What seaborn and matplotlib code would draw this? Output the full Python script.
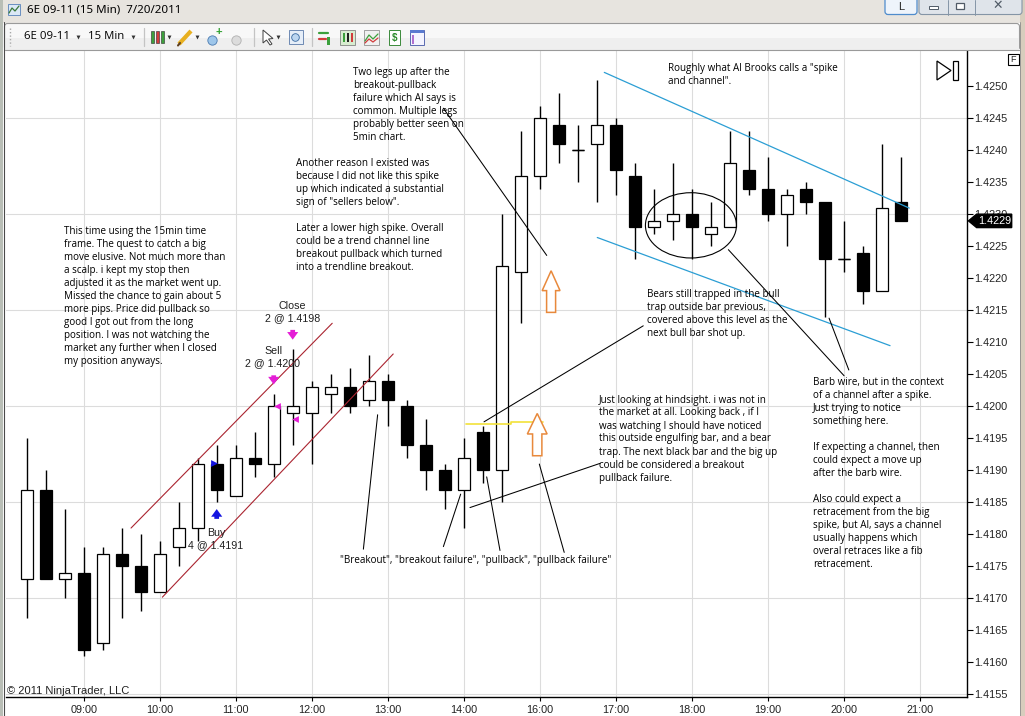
import numpy as np
import pandas as pd
import matplotlib.pyplot as plt
import seaborn as sns
from matplotlib.patches import Rectangle, Polygon, Ellipse, FancyBboxPatch

# ── 15 min bars, 6E 09-11, 7/20/2011 ─────────────────────
opens  = [1.4173, 1.4187, 1.4173, 1.4174, 1.4163, 1.4177, 1.4175, 1.4171, 1.4178, 1.4181,
          1.4191, 1.4186, 1.4192, 1.4191, 1.4199, 1.4199, 1.4202, 1.4203, 1.4201, 1.4204,
          1.4200, 1.4194, 1.4190, 1.4187, 1.4196, 1.4190, 1.4221, 1.4236, 1.4244, 1.4240,
          1.4241, 1.4244, 1.4236, 1.4228, 1.4229, 1.4230, 1.4227, 1.4228, 1.4237, 1.4234,
          1.4230, 1.4234, 1.4232, 1.4223, 1.4224, 1.4218, 1.4232]
highs  = [1.4195, 1.4190, 1.4184, 1.4178, 1.4178, 1.4181, 1.4180, 1.4179, 1.4185, 1.4192,
          1.4194, 1.4194, 1.4196, 1.4202, 1.4209, 1.4204, 1.4205, 1.4206, 1.4208, 1.4205,
          1.4201, 1.4198, 1.4191, 1.4195, 1.4197, 1.4230, 1.4243, 1.4247, 1.4249, 1.4244,
          1.4251, 1.4245, 1.4238, 1.4234, 1.4238, 1.4234, 1.4232, 1.4243, 1.4243, 1.4239,
          1.4234, 1.4235, 1.4232, 1.4229, 1.4225, 1.4241, 1.4239]
lows   = [1.4167, 1.4173, 1.4170, 1.4161, 1.4162, 1.4167, 1.4168, 1.4171, 1.4175, 1.4179,
          1.4185, 1.4186, 1.4189, 1.4189, 1.4194, 1.4191, 1.4199, 1.4199, 1.4200, 1.4197,
          1.4192, 1.4187, 1.4184, 1.4181, 1.4188, 1.4185, 1.4213, 1.4234, 1.4238, 1.4235,
          1.4232, 1.4233, 1.4223, 1.4227, 1.4226, 1.4223, 1.4225, 1.4228, 1.4233, 1.4229,
          1.4225, 1.4230, 1.4214, 1.4221, 1.4216, 1.4218, 1.4229]
closes = [1.4187, 1.4173, 1.4174, 1.4162, 1.4177, 1.4175, 1.4171, 1.4177, 1.4181, 1.4191,
          1.4187, 1.4192, 1.4191, 1.4200, 1.4200, 1.4203, 1.4203, 1.4200, 1.4204, 1.4201,
          1.4194, 1.4190, 1.4187, 1.4192, 1.4190, 1.4222, 1.4236, 1.4245, 1.4241, 1.4240,
          1.4244, 1.4237, 1.4228, 1.4229, 1.4230, 1.4228, 1.4228, 1.4238, 1.4234, 1.4230,
          1.4233, 1.4232, 1.4223, 1.4223, 1.4218, 1.4231, 1.4229]

# two sessions, pause between 14:00 and 15:15
times = (list(pd.date_range('2011-07-20 08:15', '2011-07-20 14:00', freq='15min')) +
         list(pd.date_range('2011-07-20 15:15', '2011-07-20 20:45', freq='15min')))
hour_ticks  = [i for i, t in enumerate(times) if t.minute == 0] + [len(times)]
hour_labels = [times[i].strftime('%H:%M') for i in hour_ticks[:-1]] + ['21:00']

price_ticks = np.round(np.arange(1.4155, 1.42501, 0.0005), 4)
grid_levels = np.round(np.arange(1.4155, 1.42501, 0.0015), 4)

# hand drawn objects (bar index, price)
red_upper  = ([5.49, 16.08], [1.41810, 1.42130])
red_lower  = ([7.14, 19.29], [1.41702, 1.42082])
blue_upper = ([30.40, 46.45], [1.42522, 1.42310])
blue_lower = ([30.03, 45.44], [1.42264, 1.42095])
yellow_x = [23.12, 25.49, 25.49, 27.20]
yellow_y = [1.41972, 1.41972, 1.41975, 1.41975]
note_lines = [
    ([21.93, 27.37], [1.42466, 1.42236]),   # two legs up
    ([24.07, 32.45], [1.41976, 1.42126]),   # bears still trapped
    ([23.33, 30.17], [1.41842, 1.41911]),   # just looking at hindsight
    ([17.72, 18.47], [1.41777, 1.41987]),   # "Breakout"
    ([21.93, 22.84], [1.41781, 1.41863]),   # "breakout failure"
    ([24.91, 24.21], [1.41775, 1.41890]),   # "pullback"
    ([28.29, 26.98], [1.41772, 1.41910]),   # "pullback failure"
    ([36.93, 43.02], [1.42245, 1.42048]),   # barb wire
    ([42.23, 43.27], [1.42138, 1.42057]),
]
barb_ellipse = (34.96, 1.42283, 4.79, 0.00102)
# hollow arrows: centre, tip, shoulder, tail, head half width, shaft half width
hollow_arrows = [(26.87, 1.41989, 1.41957, 1.41923, 0.52, 0.245),
                 (27.60, 1.42212, 1.42181, 1.42147, 0.47, 0.237)]
# executions
exit_arrows = [(14, 1.42124, 1.42100), (13, 1.42053, 1.42030)]
entry_arrow = (10, 1.41820, 1.41844)
exec_marks_sell = ([13.15, 14.13], [1.42000, 1.41980])
exec_mark_buy = ([9.85], [1.41912])
last_price = closes[-1]

W, H = 1025, 716
sns.set_style('white')
plt.rcParams['font.family'] = ['Liberation Sans', 'DejaVu Sans']
NOTE_FONT = ['Open Sans', 'DejaVu Sans']

fig = plt.figure(figsize=(W / 100, H / 100), dpi=100)
fig.patch.set_facecolor('white')

X0, X1, Y0, Y1 = 6, 967, 50, 697
ax = fig.add_axes([X0 / W, 1 - Y1 / H, (X1 - X0) / W, (Y1 - Y0) / H])
ax.set_zorder(1)
ax.set_facecolor('white')
ax.set_xlim(-1.09, 49.49)
ax.set_ylim(1.41546, 1.42557)

# grid
ax.hlines(grid_levels, -2, 51, color='#dcdcdc', lw=0.8, zorder=0)
ax.vlines(hour_ticks, 1.414, 1.427, color='#dcdcdc', lw=0.8, zorder=0)

# candles
x = np.arange(len(opens))
o = np.array(opens)
c = np.array(closes)
ax.vlines(x, lows, highs, color='black', lw=1, zorder=2)
ax.bar(x, np.abs(c - o), bottom=np.minimum(o, c), width=0.63,
       color=np.where(c >= o, 'white', 'black'), edgecolor='black', lw=0.9, zorder=3)
doji = c == o
ax.hlines(c[doji], x[doji] - 0.315, x[doji] + 0.315, color='black', lw=1, zorder=3)

# channels
for xs, ys in (red_upper, red_lower):
    sns.lineplot(x=xs, y=ys, ax=ax, color='#aa2430', lw=0.8, zorder=4)
for xs, ys in (blue_upper, blue_lower):
    sns.lineplot(x=xs, y=ys, ax=ax, color='#2b9ed4', lw=0.9, zorder=4)
ax.plot(yellow_x, yellow_y, color='#f2e23a', lw=1.2, zorder=4)
for xs, ys in note_lines:
    ax.plot(xs, ys, color='black', lw=0.75, zorder=5)
ex, ey, ew, eh = barb_ellipse
ax.add_patch(Ellipse((ex, ey), ew, eh, fill=False, ec='black', lw=0.8, zorder=5))
for cx, tip, sh, tail, hw, sw in hollow_arrows:
    pts = [(cx, tip), (cx + hw, sh), (cx + sw, sh), (cx + sw, tail),
           (cx - sw, tail), (cx - sw, sh), (cx - hw, sh)]
    ax.add_patch(Polygon(pts, closed=True, fc='white', ec='#e8893c', lw=1.1, zorder=5))

# executions
arrow_style = 'simple,head_length=0.55,head_width=0.8,tail_width=0.34'
for bx, tail, head in exit_arrows:
    ax.annotate('', xy=(bx, head), xytext=(bx, tail),
                arrowprops=dict(arrowstyle=arrow_style, color='#e41ed6', lw=0), zorder=6)
bx, tail, head = entry_arrow
ax.annotate('', xy=(bx, head), xytext=(bx, tail),
            arrowprops=dict(arrowstyle=arrow_style, color='#1414e0', lw=0), zorder=6)
ax.scatter(exec_marks_sell[0], exec_marks_sell[1], marker='<', s=24, color='#e41ed6', zorder=6, lw=0)
ax.scatter(exec_mark_buy[0], exec_mark_buy[1], marker='>', s=24, color='#1414e0', zorder=6, lw=0)

# axes styling
for side in ('left', 'top'):
    ax.spines[side].set_visible(False)
for side in ('right', 'bottom'):
    ax.spines[side].set_color('black')
    ax.spines[side].set_linewidth(1)
ax.yaxis.tick_right()
ax.set_yticks(price_ticks)
ax.set_yticklabels([f'{v:.4f}' for v in price_ticks])
ax.set_xticks(hour_ticks)
ax.set_xticklabels(hour_labels)
ax.tick_params(axis='y', right=True, left=False, length=4.5, width=0.8, pad=1,
               labelsize=7.8, colors='black', labelcolor='#222222')
ax.tick_params(axis='x', bottom=True, length=3, width=0.8, pad=2.5,
               labelsize=7.8, colors='black', labelcolor='#222222')

# last price marker (sits over the 1.4230 label, as on the screen)
yt = ax.get_yaxis_transform()
hh = 0.000105
ax.add_patch(Polygon([(1.0015, last_price), (1.010, last_price + hh), (1.0465, last_price + hh),
                      (1.0465, last_price - hh), (1.010, last_price - hh)],
                     closed=True, transform=yt, fc='black', ec='black', clip_on=False, zorder=7))
ax.text(1.0115, last_price, f'{last_price:.4f}', transform=yt, color='white', fontsize=7.8,
        va='center', ha='left', zorder=8, clip_on=False)

# ── overlay in pixel coordinates: notes and window chrome ──
ov = fig.add_axes([0, 0, 1, 1])
ov.set_xlim(0, W)
ov.set_ylim(H, 0)
ov.axis('off')
ov.set_zorder(2)
ov.patch.set_visible(False)


def note(px, py, txt):
    ov.text(px, py - 4.5, txt, va='top', ha='left', fontsize=7.1, family=NOTE_FONT,
            linespacing=1.25, color='black')


note(353, 71.7, "Two legs up after the\nbreakout-pullback\nfailure which Al says is\n"
               "common. Multiple legs\nprobably better seen on\n5min chart.")
note(296, 162.7, 'Another reason I existed was\nbecause I did not like this spike\n'
                 'up which indicated a substantial\nsign of "sellers below".')
note(296, 228.0, "Later a lower high spike. Overall\ncould be a trend channel line\n"
                 "breakout pullback which turned\ninto a trendline breakout.")
note(64, 230.7, "This time using the 15min time\nframe. The quest to catch a big\n"
                "move elusive. Not much more than\na scalp. i kept my stop then\n"
                "adjusted it as the market went up.\nMissed the chance to gain about 5\n"
                "more pips. Price did pullback so\ngood I got out from the long\n"
                "position. I was not watching the\nmarket any further when I closed\n"
                "my position anyways.")
note(668, 67.3, 'Roughly what Al Brooks calls a "spike\nand channel".')
note(646.7, 293.3, "Bears still trapped in the bull\ntrap outside bar previous,\n"
                   "covered above this level as the\nnext bull bar shot up.")
note(599.3, 399, "Just looking at hindsight. i was not in\nthe market at all. Looking back , if I\n"
                 "was watching I should have noticed\nthis outside engulfing bar, and a bear\n"
                 "trap. The next black bar and the big up\ncould be considered a breakout\n"
                 "pullback failure.")
note(813.3, 381.8, "Barb wire, but in the context\nof a channel after a spike.\nJust trying to notice\n"
                   "something here.\n\nIf expecting a channel, then\ncould expect a move up\n"
                   "after the barb wire.\n\nAlso could expect a\nretracement from the big\n"
                   "spike, but Al, says a channel\nusually happens which\n"
                   "overal retraces like a fib\nretracement.")
note(340, 560, '"Breakout", "breakout failure", "pullback", "pullback failure"')

trade_kw = dict(ha='center', va='center', fontsize=7.7, color='#202020')
ov.text(292.3, 306, 'Close', **trade_kw)
ov.text(292.3, 318, '2 @ 1.4198', **trade_kw)
ov.text(273.3, 351, 'Sell', **trade_kw)
ov.text(272.7, 363, '2 @ 1.4200', **trade_kw)
ov.text(216, 533.3, 'Buy', **trade_kw)
ov.text(215.8, 545.3, '4 @ 1.4191', **trade_kw)
ov.text(7, 691, '\u00a9 2011 NinjaTrader, LLC', ha='left', va='center', fontsize=8, color='#202020')

# "go to last bar" button and F box
ov.add_patch(Polygon([(937, 61), (951, 70.5), (937, 80)], closed=True, fill=False, ec='black', lw=0.9))
ov.add_patch(Rectangle((953, 61), 4.5, 19, fill=False, ec='black', lw=0.9))
ov.add_patch(Rectangle((1007.5, 53.5), 11, 11, fill=False, ec='black', lw=0.8))
ov.text(1013, 59, 'F', ha='center', va='center', fontsize=6.5)

# window frame
ov.add_patch(Rectangle((0, 0), W, 22.5, fc='#e7e4df', ec='none'))
ov.add_patch(Rectangle((0, 0), 3.2, H, fc='#b9beb6', ec='none'))
ov.plot([3.6, 3.6], [22, H], color='#4a4a4a', lw=0.8)
ov.add_patch(Rectangle((1020, 0), 5, H, fc='#d7cdbd', ec='none'))
ov.plot([1019.6, 1019.6], [22, H], color='#8c8c8c', lw=0.6)

# title
ov.add_patch(Rectangle((8, 4), 12, 11, fc='#dbe8f6', ec='#6a8fc0', lw=0.7))
ov.plot([9, 12, 15, 19], [13, 8, 11, 6], color='#3a7a3a', lw=0.9)
ov.text(27, 10.5, '6E 09-11 (15 Min)  7/20/2011', ha='left', va='center', fontsize=8.3,
        family=['Noto Sans', 'DejaVu Sans'], color='black')
ov.add_patch(FancyBboxPatch((885, -4), 32, 18.5, boxstyle='round,pad=0,rounding_size=3',
                            fc='#eef4fb', ec='#4f8ccc', lw=0.9))
ov.text(901, 6.5, 'L', ha='center', va='center', fontsize=8)
ov.add_patch(FancyBboxPatch((919, -4), 103, 18.5, boxstyle='round,pad=0,rounding_size=3',
                            fc='#dfe4ea', ec='#8595a6', lw=0.8))
ov.plot([948, 948], [0, 14.5], color='#8595a6', lw=0.7)
ov.plot([975, 975], [0, 14.5], color='#8595a6', lw=0.7)
ov.add_patch(Rectangle((929, 6), 9, 3, fc='white', ec='#505a66', lw=0.7))
ov.add_patch(Rectangle((956, 2.5), 8, 6.5, fc='white', ec='#505a66', lw=0.9))
ov.text(998, 5.5, '\u2715', ha='center', va='center', fontsize=9, color='#505a66',
        family=['DejaVu Sans'], weight='bold')

# toolbar
ov.add_patch(FancyBboxPatch((4.5, 23.5), 1015, 26.5, boxstyle='round,pad=0,rounding_size=3',
                            fc='#f8f8f8', ec='#9a9a9a', lw=0.8))
ov.add_patch(Rectangle((5, 38), 1014, 11.5, fc='#efefef', ec='none'))
ov.plot([4.5, 1019.5], [50, 50], color='#9a9a9a', lw=0.8)
ov.plot([9.5, 9.5], [28, 46], color='#a8a8a8', lw=1, ls=(0, (1, 1.5)))
tb_kw = dict(ha='left', va='center', fontsize=8.2, family=['Open Sans', 'DejaVu Sans'], color='black')
ov.text(24, 36.5, '6E 09-11', **tb_kw)
ov.text(88, 36.5, '15 Min', **tb_kw)
for tx in (78, 133, 169, 197, 278):
    ov.scatter([tx], [37], marker='v', s=8, color='#333333', lw=0)
for sx in (143.5, 254, 312):
    ov.plot([sx, sx], [28, 46], color='#c4c4c4', lw=0.9)
# chart style icon (green/red/green bars)
for bxp, col in ((151, '#3ca03c'), (156, '#d23c3c'), (161, '#3ca03c')):
    ov.add_patch(Rectangle((bxp, 31), 3.2, 12, fc=col, ec='#2a2a2a', lw=0.4))
# pencil
ov.plot([179, 191], [44, 31], color='#e8b020', lw=3, solid_capstyle='butt')
ov.plot([178, 180], [45.5, 43], color='#604020', lw=1.5)
# zoom in / zoom out
ov.scatter([212], [40], s=45, color='#9ec6ea', edgecolor='#4a7ab0', lw=0.6)
ov.text(219, 32.5, '+', ha='center', va='center', fontsize=8, color='#2ea02e', weight='bold')
ov.scatter([236], [40], s=45, color='#dcdcdc', edgecolor='#b0b0b0', lw=0.6)
# pointer
ov.add_patch(Polygon([(263, 30), (263, 43), (266.5, 40), (270, 45), (272, 44), (268.5, 39), (273, 38.5)],
                     closed=True, fc='white', ec='#404040', lw=0.7))
# data box
ov.add_patch(Rectangle((289, 30), 14, 14, fc='#e6eef8', ec='#5a7aa8', lw=0.6))
ov.scatter([295], [37], s=30, color='#bcd6f0', edgecolor='#3a6aa0', lw=0.6)
# remaining icons
ov.plot([319, 328], [33, 33], color='#3ca03c', lw=1.6)
ov.plot([319, 326], [39, 39], color='#d23c3c', lw=1.6)
ov.add_patch(Rectangle((327, 37), 3, 8, fc='#3ca03c', ec='none'))
ov.add_patch(Rectangle((340, 30), 15, 15, fc='#d8ecd0', ec='#707070', lw=0.5))
for bxp, col in ((343, '#3ca03c'), (347, '#202020'), (351, '#d23c3c')):
    ov.add_patch(Rectangle((bxp, 33), 2.2, 9, fc=col, ec='none'))
ov.add_patch(Rectangle((364, 30), 15, 15, fc='#f0f0f0', ec='#808080', lw=0.5))
ov.plot([365, 369, 373, 378], [41, 35, 39, 34], color='#3ca03c', lw=0.9)
ov.plot([365, 369, 373, 378], [43, 39, 42, 38], color='#d23c3c', lw=0.9)
ov.add_patch(Rectangle((389, 30), 11, 15, fc='white', ec='#3c8a3c', lw=0.7))
ov.text(394.5, 37.5, '$', ha='center', va='center', fontsize=7, color='#2a8a2a', weight='bold')
ov.add_patch(Rectangle((410, 30), 14, 15, fc='#f4f4ff', ec='#5a6ab0', lw=0.7))
ov.add_patch(Rectangle((410, 30), 14, 3, fc='#5a7ad0', ec='none'))
ov.add_patch(Rectangle((411.5, 35), 2.5, 9, fc='#b070d0', ec='none'))

plt.savefig('out.png', dpi=100)
print("saved")
